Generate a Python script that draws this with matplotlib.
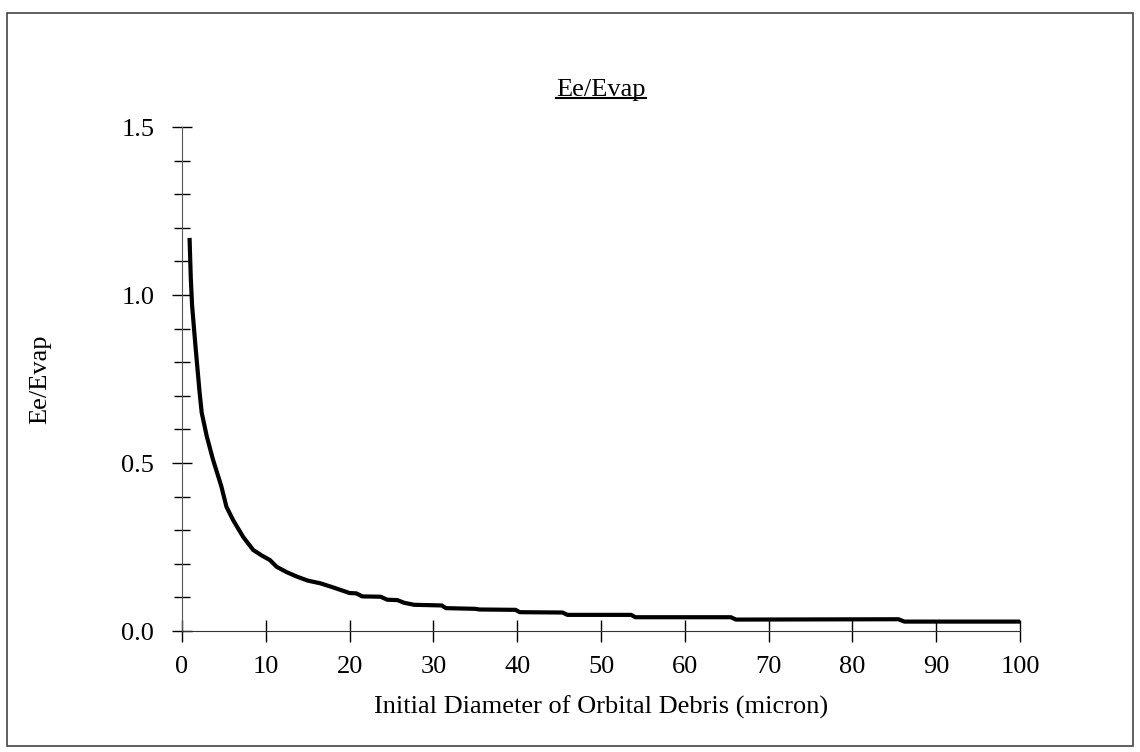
import matplotlib
matplotlib.use("Agg")
import matplotlib.pyplot as plt
from matplotlib.lines import Line2D
from matplotlib.patches import Rectangle
from matplotlib.ticker import MultipleLocator

# =======================
# Datos
# =======================
diametro = [0.9, 1.05, 1.2, 1.6, 2.1, 2.35, 2.95, 3.7, 4.7, 5.3, 6.1, 7.3, 8.5,
            9.5, 10.5, 11.3, 12.5, 13.7, 15.0, 16.5, 18.0, 20.0, 20.8, 21.5,
            23.7, 24.5, 25.7, 26.5, 27.7, 31.0, 31.5, 35.0, 35.5, 39.8, 40.3,
            45.4, 46.0, 53.6, 54.1, 65.5, 66.1, 85.5, 86.2, 100.0]
ee_evap = [1.17, 1.05, 0.97, 0.85, 0.71, 0.65, 0.58, 0.51, 0.43, 0.37, 0.33,
           0.28, 0.241, 0.225, 0.211, 0.191, 0.175, 0.162, 0.15, 0.142, 0.13,
           0.113, 0.112, 0.103, 0.102, 0.093, 0.092, 0.084, 0.078, 0.076,
           0.068, 0.066, 0.064, 0.063, 0.056, 0.055, 0.048, 0.048, 0.041,
           0.041, 0.034, 0.035, 0.028, 0.028]

x_ticks = list(range(0, 101, 10))
y_ticks = [0.0, 0.5, 1.0, 1.5]

plt.rcParams['font.family'] = ['Liberation Serif', 'DejaVu Serif']

fig = plt.figure(figsize=(11.4, 7.52), dpi=100)
ax = fig.add_axes([182 / 1140, 1 - 631 / 752, 838 / 1140, 504 / 752])

ax.plot(diametro, ee_evap, color="black", lw=3, solid_capstyle="butt")

ax.set_xlim(0, 100)
ax.set_ylim(0, 1.5)
ax.set_xticks(x_ticks)
ax.set_yticks(y_ticks)
ax.set_yticklabels([f"{v:.1f}" for v in y_ticks])
ax.yaxis.set_minor_locator(MultipleLocator(0.1))

for s in ["top", "right"]:
    ax.spines[s].set_visible(False)
ax.spines["left"].set_color("#555555")
ax.spines["bottom"].set_color("#333333")

ax.tick_params(axis="x", which="major", direction="inout", length=16,
               width=1, pad=10, labelsize=19)
ax.tick_params(axis="y", which="major", direction="inout", length=14,
               width=1, pad=13, labelsize=19)
ax.tick_params(axis="y", which="minor", direction="inout", length=12, width=1)

ax.set_xlabel("Initial Diameter of Orbital Debris (micron)", fontsize=19,
              va="center")
ax.xaxis.set_label_coords(0.5, (631 - 707) / 504)
ax.set_ylabel("Ee/Evap", fontsize=19, va="center")
ax.yaxis.set_label_coords((40 - 182) / 838, 0.5)

titulo = ax.set_title("Ee/Evap", fontsize=19, pad=22)

# Marco de la figura
fig.patches.append(Rectangle((7 / 1140, 6 / 752), 1126 / 1140, 733 / 752,
                             transform=fig.transFigure, fill=False,
                             edgecolor="#444444", lw=1.2))

# Subrayado del titulo
fig.canvas.draw()
bb = titulo.get_window_extent().transformed(fig.transFigure.inverted())
y_sub = bb.y0 + 3 / 752
fig.lines.append(Line2D([bb.x0, bb.x1], [y_sub, y_sub],
                        transform=fig.transFigure, color="black", lw=1.5))

fig.savefig("out.png", dpi=100)
